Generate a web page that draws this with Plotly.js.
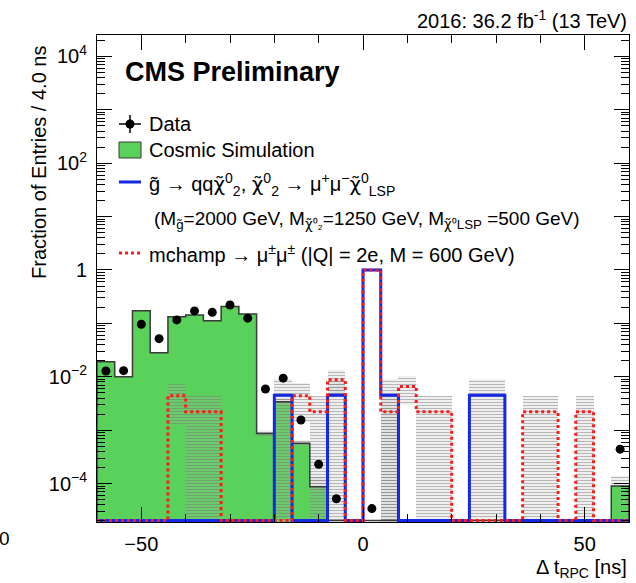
<!DOCTYPE html>
<html><head><meta charset="utf-8">
<script src="https://cdn.plot.ly/plotly-3.0.1.min.js"></script>
<style>html,body{margin:0;padding:0;background:#fff}#plot{width:636px;height:583px}</style>
</head><body><div id="plot"></div>
<script>
// ---- data (bins of 4 ns, centres) ----
const binCenters = [-58,-54,-50,-46,-42,-38,-34,-30,-26,-22,-18,-14,-10,-6,-2,2,6,10,14,18,22,26,30,34,38,42,46,50,54,58];
const binWidth = 4;
const cosmicSim  = [0.0192,0.0100,0.173,0.0283,0.133,0.144,0.112,0.206,0.150,0.00087,0.0034,0.00057,0.000087,0,0,0,0,0,0,0,0,0,0,0,0,0,0,0,0,0.00009];
const cosmicLow  = [null,null,null,null,null,null,null,null,null,0.00075,0.0030,0.00050,0.000072,null,null,null,null,null,null,null,null,null,null,null,null,null,null,null,null,0.000085];
const cosmicHigh = [null,null,null,null,null,null,null,null,null,0.00100,0.0040,0.00066,0.00013,null,null,null,null,null,null,null,null,null,null,null,null,null,null,null,null,0.00014];
const dataVals   = [0.0128,0.0130,0.096,0.0517,0.116,0.171,0.161,0.221,0.125,0.0059,0.0094,0.00155,0.00023,0.000052,0,0.000034,0,0,0,0,0,0,0,0,0,0,0,0,0,0.00044];
const gluino     = [0,0,0,0,0,0,0,0,0,0,0.0045,0,0,0.0045,0,1.0,0.0045,0,0,0,0,0.0045,0.0045,0,0,0,0,0,0,0];
const gluinoLow  = [null,null,null,null,null,null,null,null,null,null,0,null,null,0,null,null,0,null,null,null,null,0,0,null,null,null,null,null,null,null];
const gluinoHigh = [null,null,null,null,null,null,null,null,null,null,0.0090,null,null,0.0090,null,null,0.0090,null,null,null,null,0.0090,0.0090,null,null,null,null,null,null,null];
const mchamp     = [0,0,0,0,0.0044,0.0022,0.0022,0,0,0,0,0.0044,0.0022,0.0088,0,1.0,0.0022,0.0066,0.0022,0.0022,0,0,0,0,0.0022,0.0022,0,0.0022,0,0];
const mchampLow  = [null,null,null,null,0.00126,0,0,null,null,null,null,0.0014,0,0.0046,null,null,0,0.0030,0,0,null,null,null,null,0,0,null,0,null,null];
const mchampHigh = [null,null,null,null,0.0073,0.0044,0.0044,null,null,null,null,0.0075,0.0044,0.0134,null,null,0.0044,0.0104,0.0044,0.0044,null,null,null,null,0.0044,0.0044,null,0.0044,null,null];

const yMin = -4.72, yMax = 4.40;
const floorVal = Math.pow(10, yMin + 0.028);
const FONT = 'Liberation Sans, Arial, Helvetica, sans-serif';
const GREEN = '#5ad15a', BLUE = '#1428e6', RED = '#ff1a1a';

function stepLine(vals){
  const xs=[], ys=[];
  xs.push(binCenters[0]-binWidth/2); ys.push(floorVal);
  vals.forEach((v,i)=>{
    const y = v>0 ? v : floorVal;
    xs.push(binCenters[i]-binWidth/2, binCenters[i]+binWidth/2); ys.push(y,y);
  });
  xs.push(binCenters[binCenters.length-1]+binWidth/2); ys.push(floorVal);
  return {xs, ys};
}
function band(lo, hi, name){
  const x=[], base=[], h=[];
  lo.forEach((l,i)=>{ if(l===null||hi[i]===null) return;
    const b = l>0 ? l : floorVal*0.5;
    x.push(binCenters[i]); base.push(b); h.push(hi[i]-b); });
  return {type:'bar', x, y:h, base, width:binWidth, name, showlegend:false, hoverinfo:'skip',
    marker:{color:'rgba(160,160,160,0.3)', line:{width:0},
      pattern:{shape:'-', size:3, solidity:0.3, fgcolor:'rgba(115,115,115,0.5)', bgcolor:'rgba(175,175,175,0.2)'}}};
}

const traces = [];
traces.push({type:'bar', x:binCenters, y:cosmicSim.map(v=>v>0?v:null), width:binWidth,
  marker:{color:GREEN, line:{width:0}}, showlegend:false, hoverinfo:'skip'});
const cs = stepLine(cosmicSim);
traces.push({type:'scatter', mode:'lines', x:cs.xs, y:cs.ys, line:{color:'#3a3a3a', width:1.5}, showlegend:false, hoverinfo:'skip'});
traces.push(band(cosmicLow, cosmicHigh, 'cosmic unc'));
traces.push(band(gluinoLow, gluinoHigh, 'gluino unc'));
traces.push(band(mchampLow, mchampHigh, 'mchamp unc'));
const gs = stepLine(gluino);
traces.push({type:'scatter', mode:'lines', x:gs.xs, y:gs.ys, line:{color:BLUE, width:3}, showlegend:false, hoverinfo:'skip'});
const ms = stepLine(mchamp);
traces.push({type:'scatter', mode:'lines', x:ms.xs, y:ms.ys, line:{color:RED, width:3, dash:'dot'}, showlegend:false, hoverinfo:'skip'});
const dx=[], dy=[];
dataVals.forEach((v,i)=>{ if(v>0){dx.push(binCenters[i]); dy.push(v);} });
traces.push({type:'scatter', mode:'markers', x:dx, y:dy, marker:{color:'black', size:9, symbol:'circle'}, showlegend:false, hoverinfo:'skip', cliponaxis:true});

// ticks
const yMajor=[], yText=[], yMinor=[];
for(let e=-4;e<=4;e++){
  yMajor.push(Math.pow(10,e));
  if(e%2!==0) yText.push('');
  else if(e===0) yText.push('1');
  else yText.push('10<sup>'+(e<0?'\u2212'+(-e):e)+'</sup>');
}
for(let e=-5;e<=4;e++){ for(let k=2;k<=9;k++) yMinor.push(k*Math.pow(10,e)); }

const L=97, R=7, T=35, B=61, W=636, H=583;
const PW=W-L-R, PH=H-T-B;
const px = x => (x-L)/PW;
const py = y => (H-B-y)/PH;

const ann = (text, x, y, opts={}) => Object.assign({text, x:px(x), y:py(y), xref:'paper', yref:'paper', showarrow:false,
  xanchor:'left', yanchor:'middle', font:{family:FONT, size:19, color:'black'}}, opts);
const LF = {family:FONT, size:20, color:'black'};
const chi = '<span style="font-family:DejaVu Sans">\u03c7\u0303</span>';

const annotations = [
  ann('2016: 36.2 fb<sup>-1</sup> (13 TeV)', 629, 20, {xanchor:'right', font:{family:FONT,size:20,color:'black'}}),
  ann('<b>CMS Preliminary</b>', 123, 72, {font:{family:FONT,size:27,color:'black'}}),
  ann('Data', 147, 124, {font:LF}),
  ann('Cosmic Simulation', 147, 150, {font:LF}),
  ann('g\u0303 \u2192 qq'+chi+'<sup>0</sup><sub>2</sub>, '+chi+'<sup>0</sup><sub>2</sub> \u2192 \u03bc<sup>+</sup>\u03bc<sup>\u2212</sup>'+chi+'<sup>0</sup><sub>LSP</sub>', 147, 184, {font:LF}),
  ann('(M<sub>g\u0303</sub>=2000 GeV, M<sub>'+chi+'\u2070\u2082</sub>=1250 GeV, M<sub>'+chi+'\u2070LSP</sub> =500 GeV)', 152, 220, {font:{family:FONT,size:19,color:'black'}}),
  ann('mchamp \u2192 \u03bc<sup>\u00b1</sup>\u03bc<sup>\u00b1</sup> (|Q| = 2e, M = 600 GeV)', 147, 254, {font:LF}),
  ann('Fraction of Entries / 4.0 ns', 39, 163, {xanchor:'center', textangle:-90, font:{family:FONT,size:20,color:'black'}}),
  ann('\u0394 t<sub>RPC</sub> [ns]', 629, 568, {xanchor:'right', font:{family:FONT,size:20,color:'black'}}),
  ann('0', 4, 538, {xanchor:'center'})
];

const shapes = [
  {type:'line', xref:'paper', yref:'paper', x0:px(119), x1:px(141), y0:py(124), y1:py(124), line:{color:'black', width:1.5}},
  {type:'line', xref:'paper', yref:'paper', x0:px(130), x1:px(130), y0:py(115), y1:py(133), line:{color:'black', width:1.5}},
  {type:'circle', xref:'paper', yref:'paper', x0:px(125.5), x1:px(134.5), y0:py(119.5), y1:py(128.5), fillcolor:'black', line:{color:'black', width:0}},
  {type:'rect', xref:'paper', yref:'paper', x0:px(119), x1:px(141), y0:py(142), y1:py(158), fillcolor:GREEN, line:{color:'#3a3a3a', width:1}},
  {type:'line', xref:'paper', yref:'paper', x0:px(119), x1:px(141), y0:py(182), y1:py(182), line:{color:BLUE, width:3}},
  {type:'line', xref:'paper', yref:'paper', x0:px(119), x1:px(141), y0:py(253), y1:py(253), line:{color:RED, width:3, dash:'dot'}}
];

const layout = {
  width:W, height:H, margin:{l:L, r:R, t:T, b:B, pad:0},
  paper_bgcolor:'white', plot_bgcolor:'white', barmode:'overlay', bargap:0, showlegend:false,
  font:{family:FONT, size:19, color:'black'},
  xaxis:{range:[-60,60], tickmode:'array', tickvals:[-50,0,50], ticks:'inside', ticklen:15, tickwidth:1, tickcolor:'black',
    showline:true, linecolor:'black', linewidth:1, mirror:'allticks', showgrid:false, zeroline:false,
    tickfont:{family:FONT, size:20, color:'black'}, ticklabelstandoff:4,
    minor:{tickmode:'array', tickvals:[-40,-30,-20,-10,10,20,30,40], ticks:'inside', ticklen:8, tickcolor:'black', tickwidth:1, showgrid:false}},
  yaxis:{type:'log', range:[yMin,yMax], tickmode:'array', tickvals:yMajor, ticktext:yText, ticks:'inside', ticklen:15, tickwidth:1, tickcolor:'black',
    showline:true, linecolor:'black', linewidth:1, mirror:'allticks', showgrid:false, zeroline:false,
    tickfont:{family:FONT, size:20, color:'black'}, ticklabelstandoff:5,
    minor:{tickmode:'array', tickvals:yMinor, ticks:'inside', ticklen:8, tickcolor:'black', tickwidth:1, showgrid:false}},
  annotations, shapes
};
Plotly.newPlot('plot', traces, layout, {staticPlot:true, displayModeBar:false});
</script></body></html>
